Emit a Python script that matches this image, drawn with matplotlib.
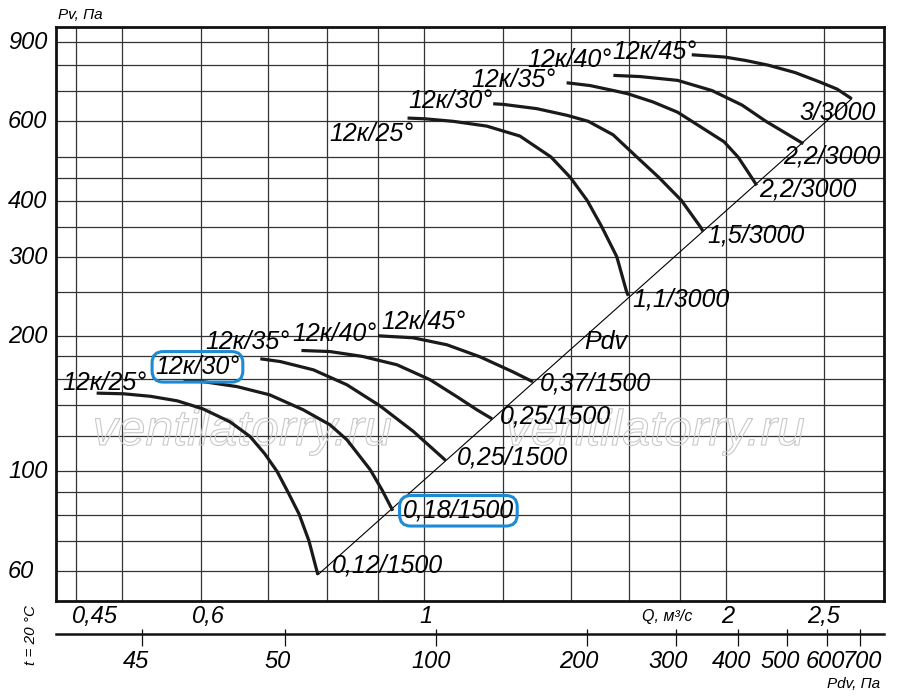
import matplotlib
matplotlib.use("Agg")
import matplotlib.pyplot as plt
import numpy as np
from matplotlib import patheffects as pe
from matplotlib.ticker import NullLocator, FixedLocator, FixedFormatter
from matplotlib.transforms import ScaledTranslation

plt.rcParams['font.family'] = ['Liberation Sans', 'DejaVu Sans']
plt.rcParams['font.style'] = 'italic'

W, H, DPI = 900, 699, 100

# ---------------- data ----------------
pv_grid = [60, 70, 80, 90, 100, 120, 140, 160, 180, 200, 250, 300, 350,
           400, 450, 500, 600, 700, 800, 900]
q_grid = [0.45, 0.5, 0.6, 0.7, 0.8, 0.9, 1.0, 1.2, 1.4, 1.6, 1.8, 2.0, 2.5]

pv_ticks = [60, 100, 200, 300, 400, 600, 900]
pv_tick_labels = ['60', '100', '200', '300', '400', '600', '900']
q_ticks = [0.45, 0.6, 1.0, 2.0, 2.5]
q_tick_labels = ['0,45', '0,6', '1', '2', '2,5']
pdv_ticks = [25.9, 50, 100, 200, 300, 400, 500, 600, 700]
pdv_tick_labels = ['45', '50', '100', '200', '300', '400', '500', '600', '700']
PDV_K = 94.6   # Pdv = K * Q^2

# 1500 rpm family
q_25_1500 = [0.472, 0.502, 0.534, 0.568, 0.602, 0.641, 0.671, 0.694, 0.714, 0.732, 0.751, 0.768, 0.784]
pv_25_1500 = [149.1, 148.6, 146.7, 143.3, 137.6, 128.7, 119.4, 109.3, 99.8, 89.8, 80.2, 70.0, 58.8]
q_30_1500 = [0.576, 0.602, 0.651, 0.702, 0.758, 0.806, 0.838, 0.884, 0.908, 0.931]
pv_30_1500 = [158.8, 158.2, 154.2, 147.8, 136.9, 126.8, 117.4, 100.7, 90.9, 81.6]
q_35_1500 = [0.687, 0.719, 0.776, 0.838, 0.904, 0.976, 1.051]
pv_35_1500 = [177.8, 175.3, 168.0, 155.6, 139.7, 122.5, 105.6]
q_40_1500 = [0.755, 0.806, 0.869, 0.940, 1.014, 1.079, 1.129, 1.169]
pv_40_1500 = [185.5, 184.5, 179.9, 172.4, 159.7, 146.3, 136.9, 130.7]
q_45_1500 = [0.900, 0.975, 1.054, 1.137, 1.226, 1.284]
pv_45_1500 = [200.0, 198.0, 191.0, 179.6, 166.3, 158.0]

# 3000 rpm family
q_25_3000 = [0.963, 1.001, 1.070, 1.155, 1.246, 1.338, 1.399, 1.454, 1.503, 1.556, 1.592, 1.598]
pv_25_3000 = [610.2, 608.1, 600, 585.6, 556.5, 500, 450, 400, 350, 300, 250, 245.5]
q_30_3000 = [1.172, 1.200, 1.295, 1.389, 1.458, 1.543, 1.629, 1.714, 1.805, 1.884, 1.897]
pv_30_3000 = [656.6, 654.5, 640.4, 618.7, 600, 560.1, 500, 450, 400, 350, 341.2]
q_35_3000 = [1.387, 1.464, 1.556, 1.596, 1.690, 1.789, 1.849, 1.990, 2.056, 2.120, 2.145]
pv_35_3000 = [731.2, 720.7, 700, 691.1, 663.0, 628.8, 600, 540.5, 499.2, 450, 432.2]
q_40_3000 = [1.544, 1.641, 1.789, 1.936, 2.074, 2.191, 2.305, 2.387]
pv_40_3000 = [759.4, 754.8, 740.2, 702.5, 652.2, 600, 560.8, 535.0]
q_45_3000 = [1.848, 1.995, 2.093, 2.203, 2.342, 2.480, 2.579, 2.667]
pv_45_3000 = [844.0, 834.0, 819.3, 800, 770.5, 733.8, 707.9, 673.7]

pdv_line_q = [0.784, 2.667]
pdv_line_pv = [58.8, 673.7]

blade_labels = ['12к/25°', '12к/30°', '12к/35°', '12к/40°', '12к/45°']
motor_labels_1500 = ['0,12/1500', '0,18/1500', '0,25/1500', '0,25/1500', '0,37/1500']
motor_labels_3000 = ['1,1/3000', '1,5/3000', '2,2/3000', '2,2/3000', '3/3000']

curves_1500 = [(q_25_1500, pv_25_1500), (q_30_1500, pv_30_1500), (q_35_1500, pv_35_1500),
               (q_40_1500, pv_40_1500), (q_45_1500, pv_45_1500)]
curves_3000 = [(q_25_3000, pv_25_3000), (q_30_3000, pv_30_3000), (q_35_3000, pv_35_3000),
               (q_40_3000, pv_40_3000), (q_45_3000, pv_45_3000)]

# ---------------- layout / style ----------------
BLUE = '#1d8ad4'
INK = '#1a1a1a'
GRID = '#333333'
FS_TICK = 17
FS = 18

fig = plt.figure(figsize=(W / DPI, H / DPI), dpi=DPI, facecolor='white')
L, R, T, B = 56, 884, 27, 601
ax = fig.add_axes([L / W, 1 - B / H, (R - L) / W, (B - T) / H])
ax.set_xscale('log')
ax.set_yscale('log')
ax.set_xlim(0.430, 2.872)
ax.set_ylim(51.4, 973)

for v in pv_grid:
    ax.axhline(v, color=GRID, lw=0.9, zorder=1)
for q in q_grid:
    ax.axvline(q, color=GRID, lw=0.9, zorder=1)

ax.xaxis.set_major_locator(FixedLocator(q_ticks))
ax.xaxis.set_major_formatter(FixedFormatter(q_tick_labels))
ax.yaxis.set_major_locator(FixedLocator(pv_ticks))
ax.yaxis.set_major_formatter(FixedFormatter(pv_tick_labels))
ax.xaxis.set_minor_locator(NullLocator())
ax.yaxis.set_minor_locator(NullLocator())
ax.tick_params(axis='both', length=0, labelsize=FS_TICK)
ax.tick_params(axis='x', pad=3)
ax.tick_params(axis='y', pad=33)
for s in ax.spines.values():
    s.set_linewidth(2.0)
    s.set_color('#111111')
    s.set_zorder(6)

fig.canvas.draw()
for lbl in ax.get_yticklabels():
    lbl.set_ha('left')
    lbl.set_transform(lbl.get_transform() + ScaledTranslation(-2 / DPI, 2 / DPI, fig.dpi_scale_trans))
xshift = [19, 7, 2, 1, 0]
for lbl, dx in zip(ax.get_xticklabels(), xshift):
    lbl.set_transform(lbl.get_transform() + ScaledTranslation(dx / DPI, 0, fig.dpi_scale_trans))

# watermark (hollow text)
for cx in (242, 655):
    ax.text(cx / W, 1 - 445 / H, 'ventilatorry.ru', transform=fig.transFigure,
            ha='center', va='baseline', fontsize=36, color='none', zorder=2,
            path_effects=[pe.Stroke(linewidth=0.8, foreground='#c8c8c8')], clip_on=False)

# Pdv line
ax.plot(pdv_line_q, pdv_line_pv, color='black', lw=0.8, zorder=3)

# curves
for q, pv in curves_1500 + curves_3000:
    ax.plot(q, pv, color=INK, lw=2.3, solid_capstyle='butt', solid_joinstyle='round', zorder=4)

box = dict(boxstyle='round,pad=0.13,rounding_size=0.45', fc='none', ec=BLUE, lw=2.2)

blade_off_1500 = [(8, 10), (14, 14), (-13, 17), (33, 16), (45, 14)]
blade_off_3000 = [(-36, -16), (-43, 3), (-53, 3), (-44, 15), (-37, 3)]
motor_off_1500 = [(14, 9), (10, 0), (11, 3), (8, 2), (7, -2)]
motor_off_3000 = [(4, -4), (4, -4), (2, -4), (-20, -13), (-52, -14)]

for i, (q, pv) in enumerate(curves_1500):
    ax.annotate(blade_labels[i], xy=(q[0], pv[0]), xytext=blade_off_1500[i],
                textcoords='offset pixels', ha='center', va='center', fontsize=FS,
                zorder=5, bbox=box if i == 1 else None)
    ax.annotate(motor_labels_1500[i], xy=(q[-1], pv[-1]), xytext=motor_off_1500[i],
                textcoords='offset pixels', ha='left', va='center', fontsize=FS,
                zorder=5, bbox=box if i == 1 else None)
for i, (q, pv) in enumerate(curves_3000):
    ax.annotate(blade_labels[i], xy=(q[0], pv[0]), xytext=blade_off_3000[i],
                textcoords='offset pixels', ha='center', va='center', fontsize=FS, zorder=5)
    ax.annotate(motor_labels_3000[i], xy=(q[-1], pv[-1]), xytext=motor_off_3000[i],
                textcoords='offset pixels', ha='left', va='center', fontsize=FS, zorder=5)

# Pdv scale below
AX2_Y = 634
ax2 = fig.add_axes([L / W, 1 - AX2_Y / H, (R - L) / W, 0.0001])
ax3 = fig.add_axes([L / W, 1 - AX2_Y / H, (R - L) / W, 0.0001])
pdv_pos = np.sqrt(np.array(pdv_ticks) / PDV_K)
for a in (ax2, ax3):
    a.set_xscale('log')
    a.set_xlim(ax.get_xlim())
    a.set_yticks([])
    a.patch.set_visible(False)
    a.xaxis.set_major_locator(FixedLocator(pdv_pos))
    a.xaxis.set_minor_locator(NullLocator())
    for s in ('top', 'left', 'right'):
        a.spines[s].set_visible(False)
ax2.spines['bottom'].set_linewidth(1.8)
ax2.spines['bottom'].set_color('#111111')
ax3.spines['bottom'].set_visible(False)
ax2.xaxis.set_major_formatter(FixedFormatter(pdv_tick_labels))
ax2.tick_params(axis='x', direction='out', length=8.6, width=0.9, labelsize=FS_TICK, pad=3, color='#111111')
ax3.tick_params(axis='x', direction='in', length=3.6, width=0.9, labelbottom=False, color='#111111')
fig.canvas.draw()
pdv_shift = [-6, -7, -5, -8, -7, -7, -7, -1, 2]
for lbl, dx in zip(ax2.get_xticklabels(), pdv_shift):
    lbl.set_transform(lbl.get_transform() + ScaledTranslation(dx / DPI, 0, fig.dpi_scale_trans))


def fpx(x, y):
    return x / W, 1 - y / H


fig.text(*fpx(58, 15), 'Pv, Па', ha='left', va='center', fontsize=11)
fig.text(*fpx(667, 616), 'Q, м³/с', ha='center', va='center', fontsize=11.5)
fig.text(*fpx(880, 684), 'Pdv, Па', ha='right', va='center', fontsize=11)
fig.text(*fpx(31, 635), 't = 20 °C', rotation=90, ha='center', va='center', fontsize=11)
fig.text(*fpx(606, 342), 'Pdv', ha='center', va='center', fontsize=FS)

fig.savefig('out.png', dpi=DPI, facecolor='white')
